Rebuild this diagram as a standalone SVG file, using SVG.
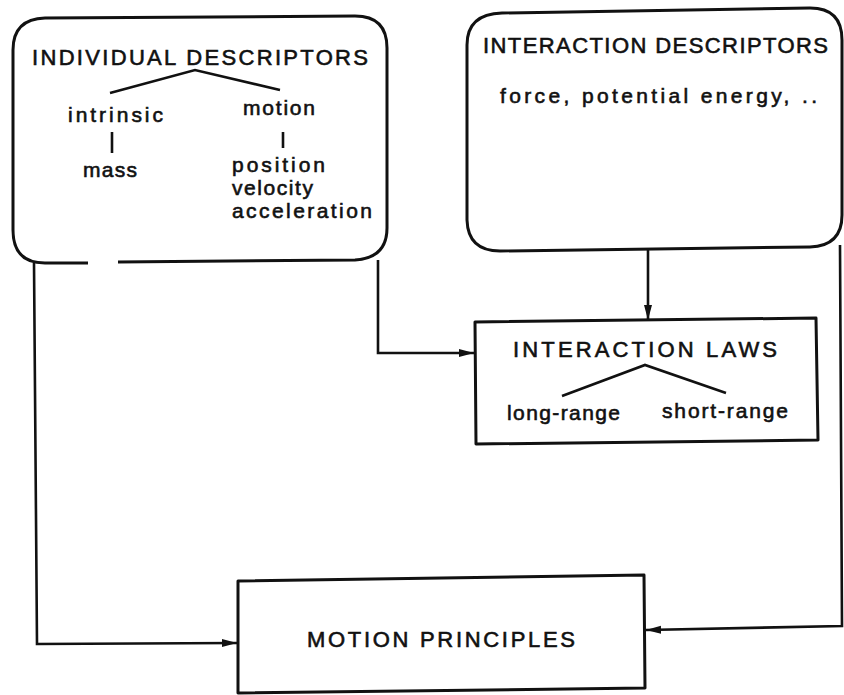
<svg xmlns="http://www.w3.org/2000/svg" width="844" height="695" viewBox="0 0 844 695">
<defs>
<style>
.b{fill:none;stroke:#111;stroke-width:3;stroke-linejoin:round}
.l{fill:none;stroke:#111;stroke-width:2.6}
text{font-family:"Liberation Sans",Arial,sans-serif;fill:#111;font-size:22px;stroke:#111;stroke-width:0.6}
.lc{font-size:21px}
</style>
<marker id="ah" markerWidth="16" markerHeight="10" refX="15" refY="5" orient="auto" markerUnits="userSpaceOnUse">
<path d="M0,1 L15,5 L0,9 Z" fill="#111"/>
</marker>
</defs>
<rect width="844" height="695" fill="#fff"/>
<g id="connectors">
<path class="l" d="M34,263 L37,644 L237,643" marker-end="url(#ah)"/>
<path class="l" d="M378,260 L378,353 L474,353" marker-end="url(#ah)"/>
<path class="l" d="M648,249 L648,320" marker-end="url(#ah)"/>
<path class="l" d="M840,245 L842,626 L646,630" marker-end="url(#ah)"/>
</g>
<g id="individual-descriptors">
<path class="b" d="M118,262 L355,260 Q387,258 387,228 L387,48 Q387,16 355,16 L45,18 Q13,19 13,50 L13,230 Q13,263 45,263 L88,263"/>
<text x="32" y="65" textLength="336" lengthAdjust="spacing">INDIVIDUAL DESCRIPTORS</text>
<path class="l" d="M110,93 L195,70 L280,90"/>
<path class="l" d="M112,132 L112,153 M283,132 L283,148"/>
<text class="lc" x="68" y="122" textLength="95" lengthAdjust="spacing">intrinsic</text>
<text class="lc" x="243" y="115" textLength="72" lengthAdjust="spacing">motion</text>
<text class="lc" x="83" y="177" textLength="54" lengthAdjust="spacing">mass</text>
<text class="lc" x="232" y="172" textLength="93" lengthAdjust="spacing">position</text>
<text class="lc" x="232" y="195" textLength="81" lengthAdjust="spacing">velocity</text>
<text class="lc" x="232" y="218" textLength="140" lengthAdjust="spacing">acceleration</text>
</g>
<g id="interaction-descriptors">
<path class="b" d="M502,13 L810,8 Q842,8 842,40 L842,215 Q842,246 810,247 L500,251 Q468,251 467,220 L467,45 Q467,14 502,13 Z"/>
<text x="483" y="53" textLength="345" lengthAdjust="spacing">INTERACTION DESCRIPTORS</text>
<text class="lc" x="500" y="103" textLength="317" lengthAdjust="spacing">force, potential energy, ..</text>
</g>
<g id="interaction-laws">
<path class="b" d="M475,322 L816,318 L818,440 L476,444 Z"/>
<text x="513" y="357" textLength="264" lengthAdjust="spacing">INTERACTION LAWS</text>
<path class="l" d="M562,396 L645,365 L726,393"/>
<text class="lc" x="507" y="420" textLength="113" lengthAdjust="spacing">long-range</text>
<text class="lc" x="662" y="418" textLength="126" lengthAdjust="spacing">short-range</text>
</g>
<g id="motion-principles">
<path class="b" d="M238,581 L644,575 L645,688 L238,693 Z"/>
<text x="307" y="647" textLength="268" lengthAdjust="spacing">MOTION PRINCIPLES</text>
</g>
</svg>
